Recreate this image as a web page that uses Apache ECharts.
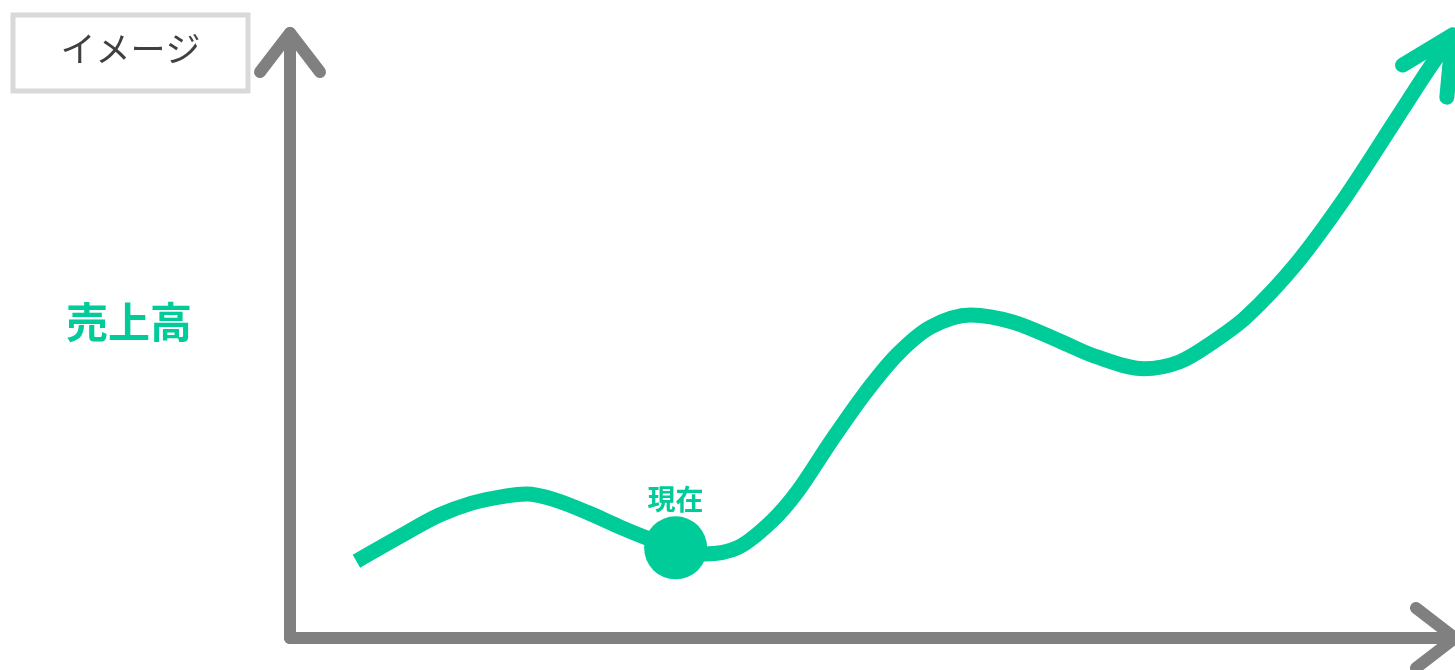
<!DOCTYPE html>
<html>
<head>
<meta charset="utf-8">
<script src="https://cdn.jsdelivr.net/npm/echarts@6/dist/echarts.min.js"></script>
<style>
html,body{margin:0;padding:0;background:#fff;}
#chart{width:1455px;height:670px;}
</style>
</head>
<body>
<div id="chart"></div>
<script>
// ---- data ----
const titleText = 'イメージ';
const yAxisName = '売上高';
const currentLabel = '現在';
// sales image curve: [time, sales]
const salesCurve = [
  [5.7, 12.7], [10.0, 17.4], [12.8, 20.3], [15.6, 22.3], [18.6, 23.5],
  [20.3, 23.8], [22.8, 22.8], [25.6, 20.7], [28.5, 18.2], [30.8, 16.4],
  [33.1, 14.9], [35.6, 13.9], [38.5, 15.0], [41.3, 19.2], [43.6, 24.3],
  [46.4, 32.4], [49.3, 40.3], [52.1, 46.8], [55.0, 51.4], [58.4, 53.4],
  [62.1, 52.2], [66.4, 48.8], [69.2, 46.5], [73.3, 44.5], [76.3, 45.6],
  [79.2, 48.9], [82.1, 53.1], [86.3, 61.7], [90.6, 72.9], [94.9, 85.6],
  [97.7, 93.9], [99.8, 99.7]
];
const currentPoint = [33.1, 14.9];
const trendArrowHead = [[95.5, 94.7], [99.8, 99.7], [99.3, 89.4]];

const GREEN = '#00cc99';
const GRAY = '#808080';
const FONT = '"Noto Sans CJK JP", "Noto Sans", sans-serif';
// open chevron arrow (round caps), pointing up
const CHEVRON = 'path://M -4.756 -3.658 A 6 6 0 0 1 4.756 -3.658 L 34.756 35.342 A 6 6 0 0 1 25.244 42.658 L 0 9.84 L -25.244 42.658 A 6 6 0 0 1 -34.756 35.342 Z';

const axisLineCfg = {
  show: true, onZero: false,
  symbol: ['none', CHEVRON],
  symbolSize: [72, 51],
  symbolOffset: [0, -19.5],
  lineStyle: { color: GRAY, width: 12, cap: 'round' }
};

const chart = echarts.init(document.getElementById('chart'));
chart.setOption({
  animation: false,
  backgroundColor: '#ffffff',
  title: [{
    text: titleText,
    left: 12.5,
    top: 14.5,
    padding: [17, 48, 25, 48],
    borderColor: '#d9d9d9',
    borderWidth: 5,
    textStyle: { fontFamily: FONT, fontSize: 35, fontWeight: 'normal', color: '#404040' }
  }, {
    text: yAxisName,
    left: 66,
    top: 301,
    padding: 0,
    textStyle: { fontFamily: FONT, fontSize: 42, fontWeight: 'bold', color: GREEN }
  }],
  grid: { left: 290, right: -5, top: 33, bottom: 32, containLabel: false },
  xAxis: {
    type: 'value', min: 0, max: 100,
    axisLine: axisLineCfg,
    axisTick: { show: false }, axisLabel: { show: false }, splitLine: { show: false }
  },
  yAxis: {
    type: 'value', min: 0, max: 100,
    axisLine: axisLineCfg,
    axisTick: { show: false }, axisLabel: { show: false }, splitLine: { show: false }
  },
  series: [
    {
      type: 'line', data: salesCurve, smooth: 0.33, symbol: 'none', clip: false, silent: true, z: 4,
      lineStyle: { color: GREEN, width: 15, cap: 'butt', join: 'round' }
    },
    {
      type: 'line', data: trendArrowHead, symbol: 'none', clip: false, silent: true, z: 4,
      lineStyle: { color: GREEN, width: 15, cap: 'round', join: 'round' }
    },
    {
      type: 'scatter', data: [currentPoint], symbol: 'circle', symbolSize: 63, z: 5, silent: true,
      itemStyle: { color: GREEN, opacity: 1 },
      label: {
        show: true, position: 'top', distance: 3, formatter: currentLabel, opacity: 1,
        fontFamily: FONT, fontSize: 28, fontWeight: 'bold', color: GREEN
      }
    }
  ]
});
</script>
</body>
</html>
